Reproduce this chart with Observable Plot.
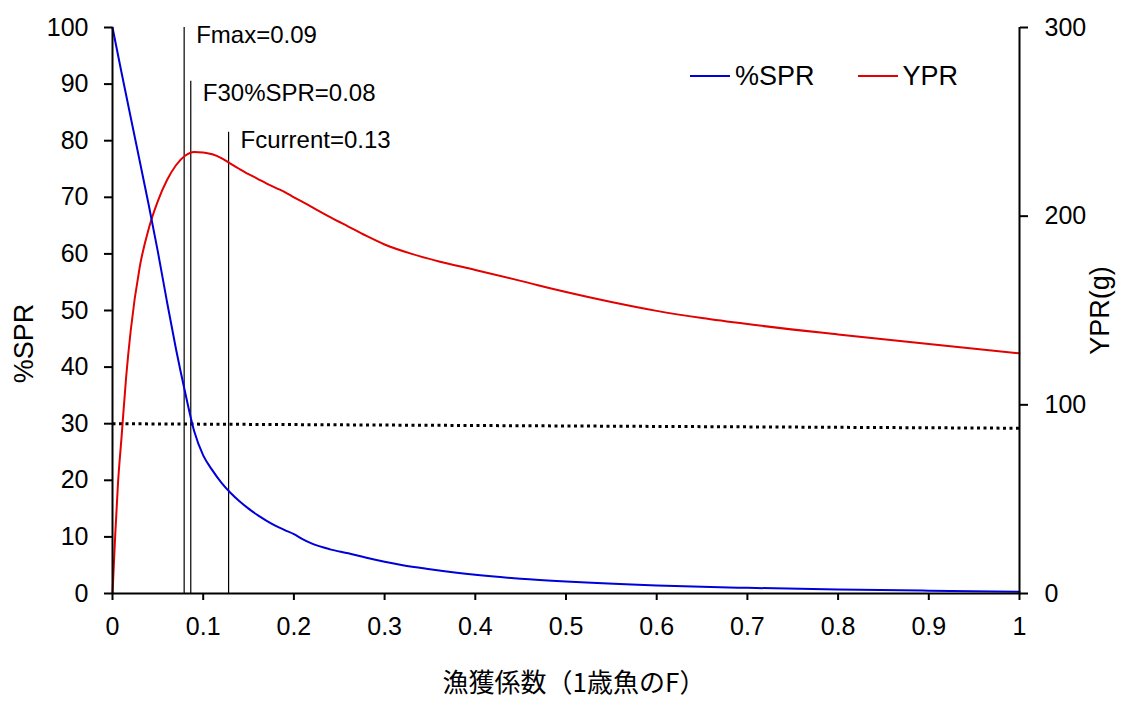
<!DOCTYPE html>
<html><head><meta charset="utf-8">
<script src="https://cdn.jsdelivr.net/npm/d3@7"></script>
<script src="https://cdn.jsdelivr.net/npm/@observablehq/plot@0.6"></script>
<style>
body{margin:0;background:#fff}
#wrap{position:relative;width:1121px;height:707px}
#legend{position:absolute;left:690px;top:61px;font:27px "Liberation Sans",Arial,sans-serif;line-height:30px;display:flex;align-items:center;color:#000}
#legend svg{display:block}
</style></head><body><div id="wrap"><div id="legend"></div></div>
<script>
// %SPR series (left axis)
const sprF = [0,0.01,0.02,0.03,0.04,0.05,0.06,0.07,0.08,0.09,0.1,0.11,0.12,0.13,0.14,0.15,0.16,0.17,0.18,0.19,0.2,0.21,0.22,0.24,0.26,0.28,0.3,0.32,0.35,0.4,0.45,0.5,0.6,0.7,0.8,0.9,1.0];
const sprVal = [100,92,84.2,76.4,68.6,60.4,51.6,43.2,35.6,28.7,24.4,21.8,19.6,17.8,16.3,15.0,13.85,12.85,11.95,11.2,10.5,9.55,8.8,7.8,7.1,6.3,5.6,5.0,4.3,3.3,2.6,2.1,1.4,1.0,0.7,0.5,0.3];
// YPR series (right axis, g)
const yprF = [0,0.003,0.006,0.01,0.015,0.02,0.03,0.04,0.05,0.06,0.07,0.08,0.09,0.1,0.11,0.12,0.13,0.14,0.15,0.16,0.17,0.18,0.19,0.2,0.21,0.22,0.24,0.26,0.28,0.3,0.33,0.36,0.4,0.45,0.5,0.55,0.6,0.65,0.7,0.8,0.9,1.0];
const yprVal = [0,31,58,83,114.5,139,173,193.5,208,219,227,232,234,233.8,232.8,230.8,227.8,225,222.3,219.8,217.3,215,212.8,210,207.5,204.8,199.5,194.5,189.5,185,180,176,171.5,165.7,159.8,154.5,149.8,146,142.8,137.3,132.2,127.3];
// 30% SPR reference (dotted)
const refLineF = [0, 1];
const refLineV = [30, 29.2];
// Reference F lines
const refF = [0.079, 0.0863, 0.128];
const refTop = [100, 90.5, 81.5];
const refLabels = ["Fmax=0.09", "F30%SPR=0.08", "Fcurrent=0.13"];
const refLabelY = [98.6, 88.4, 80.0];
// Ticks
const xTicks = [0,0.1,0.2,0.3,0.4,0.5,0.6,0.7,0.8,0.9,1];
const yLeftTicks = [0,10,20,30,40,50,60,70,80,90,100];
const yRightTicks = [0,100,200,300];
const yprMax = 300;
const seriesNames = ["%SPR", "YPR"];
const seriesColors = ["#0000D8", "#E20000"];

const k = 100 / yprMax;
const sprData = sprF.map((f, i) => ({f, v: sprVal[i]}));
const yprData = yprF.map((f, i) => ({f, v: yprVal[i] * k}));
const refIdx = refF.map((_, i) => i);

const font = '"Liberation Sans", Arial, sans-serif';
const plot = Plot.plot({
  width: 1121, height: 707,
  marginLeft: 112, marginRight: 102, marginTop: 27, marginBottom: 114,
  style: {fontFamily: font, fontSize: "25px", color: "#000", background: "#fff"},
  x: {domain: [0, 1]},
  y: {domain: [0, 100]},
  marks: [
    Plot.line(refLineF.map((f, i) => ({f, v: refLineV[i]})), {x: "f", y: "v", stroke: "#000", strokeWidth: 3, strokeDasharray: "3,3.5", strokeLinecap: "butt"}),
    Plot.ruleX(refIdx, {x: i => refF[i], y1: 0, y2: i => refTop[i], stroke: "#000", strokeWidth: 1.2}),
    Plot.line(yprData, {x: "f", y: "v", stroke: seriesColors[1], strokeWidth: 2, curve: "monotone-x"}),
    Plot.line(sprData, {x: "f", y: "v", stroke: seriesColors[0], strokeWidth: 2, curve: "monotone-x"}),
    Plot.text(refIdx, {x: i => refF[i], y: i => refLabelY[i], text: i => refLabels[i], textAnchor: "start", dx: 12, fontSize: 24}),
    Plot.axisX({ticks: xTicks, tickSize: 7, tickPadding: 17, tickFormat: d => String(d), label: null, strokeWidth: 2}),
    Plot.axisY({anchor: "left", ticks: yLeftTicks, tickSize: 8, tickPadding: 16, tickFormat: d => String(d), label: null, strokeWidth: 2}),
    Plot.axisY({anchor: "right", ticks: yRightTicks.map(v => v * k), tickSize: 8, tickPadding: 17, tickFormat: d => String(Math.round(d / k)), label: null, strokeWidth: 2}),
    Plot.ruleY([0], {stroke: "#000", strokeWidth: 2}),
    Plot.ruleX([0], {stroke: "#000", strokeWidth: 2}),
    Plot.ruleX([1], {stroke: "#000", strokeWidth: 2}),
    Plot.text(["%SPR"], {frameAnchor: "left", rotate: -90, textAnchor: "middle", dx: -88, dy: 33, fontSize: 27}),
    Plot.text(["YPR(g)"], {frameAnchor: "right", rotate: -90, textAnchor: "middle", dx: 81, dy: 0, fontSize: 27}),
    Plot.text(["漁獲係数（1歳魚のF）"], {frameAnchor: "bottom", textAnchor: "middle", dx: 8, dy: 98, fontSize: 26, fontFamily: '"Noto Sans CJK JP", sans-serif'})
  ]
});
document.getElementById("wrap").prepend(plot);

const legend = document.getElementById("legend");
seriesNames.forEach((name, i) => {
  const item = document.createElement("div");
  item.style.display = "flex";
  item.style.alignItems = "center";
  item.style.marginRight = i === 0 ? "43px" : "0";
  item.innerHTML = `<svg width="45" height="30"><line x1="0" x2="40" y1="15" y2="15" stroke="${seriesColors[i]}" stroke-width="2"/></svg><span>${name}</span>`;
  legend.appendChild(item);
});
</script>
</body></html>
